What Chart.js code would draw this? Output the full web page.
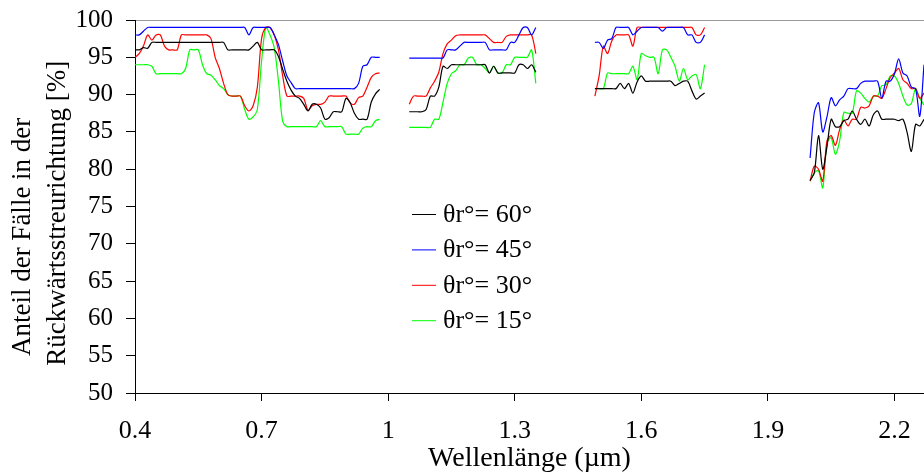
<!DOCTYPE html>
<html>
<head>
<meta charset="utf-8">
<script src="https://cdn.jsdelivr.net/npm/chart.js@4"></script>
<style>
  html, body { margin: 0; padding: 0; background: #fff; overflow: hidden; }
</style>
</head>
<body>
<canvas id="chart" width="924" height="474"></canvas>
<script>
// wavelength grid (µm), one array per measured band
const wlA = [0.40,0.41,0.42,0.43,0.44,0.45,0.46,0.47,0.48,0.49,
             0.50,0.51,0.52,0.53,0.54,0.55,0.56,0.57,0.58,0.59,
             0.60,0.61,0.62,0.63,0.64,0.65,0.66,0.67,0.68,0.69,
             0.70,0.71,0.72,0.73,0.74,0.75,0.76,0.77,0.78,0.79,
             0.80,0.81,0.82,0.83,0.84,0.85,0.86,0.87,0.88,0.89,
             0.90,0.91,0.92,0.93,0.94,0.95,0.96,0.97,0.98];
const wlB = [1.05,1.06,1.07,1.08,1.09,1.10,1.11,1.12,1.13,1.14,
             1.15,1.16,1.17,1.18,1.19,1.20,1.21,1.22,1.23,1.24,
             1.25,1.26,1.27,1.28,1.29,1.30,1.31,1.32,1.33,1.34,
             1.35];
const wlC = [1.49,
             1.50,1.51,1.52,1.53,1.54,1.55,1.56,1.57,1.58,1.59,
             1.60,1.61,1.62,1.63,1.64,1.65,1.66,1.67,1.68,1.69,
             1.70,1.71,1.72,1.73,1.74,1.75];
const wlD = [2.00,2.01,2.02,2.03,2.04,2.05,2.06,2.07,2.08,2.09,
             2.10,2.11,2.12,2.13,2.14,2.15,2.16,2.17,2.18,2.19,
             2.20,2.21,2.22,2.23,2.24,2.25,2.26,2.27];

// share of backscatter cases [%], per band
const theta60 = [
  [96,96,96.3,96.2,97,97,97,97,97,97,
   97,97,97,97,97,97,97,97,97,97,
   97,97,96,96,96,96,96,96,96.5,97,
   96,96,96,96,95.1,93.4,91.8,90.6,89.8,89.5,
   88.7,87.8,88.7,88.7,88.2,86.7,86.9,87.7,87.7,87.7,
   89.5,88.9,87.5,86.7,86.7,86.7,89,90.1,90.7],
  [87.7,87.7,87.7,87.7,88,89.8,89.8,91,93.8,93.5,
   94,94,94,94,94,94,94,94,94,92.9,
   93.8,92.9,92.9,92.9,92.9,92.9,94,94,93.5,94,
   93],
  [90.8,
   90.8,90.8,90.8,90.8,90.8,91.5,90.8,91.5,90.2,91.7,
   92.5,91.8,91.8,91.8,91.8,91.8,91.8,91.8,91.2,91.5,
   91.8,91.8,90.5,89.4,89.8,90.2],
  [78.5,79.5,84.5,80,83,86.7,85.7,85.7,86.5,86.7,
   87.8,86.7,86,86.7,85.8,87.3,87.8,86.7,86.7,86.7,
   86.7,86.5,86.7,84.9,82.4,86,85.8,86.7]
];
const theta45 = [
  [98,98,98.5,99,99,99,99,99,99,99,
   99,99,99,99,99,99,99,99,99,99,
   99,99,99,99,99,99,99,98,99,99,
   99,99,99,98,96.7,94.5,92.5,91.6,90.8,90.8,
   90.8,90.8,90.8,90.8,90.8,90.8,90.8,90.8,90.8,90.8,
   90.8,90.8,90.8,91.5,93.8,94,95,95,95],
  [94.9,94.9,94.9,94.9,94.9,94.9,94.9,94.9,94.9,96,
   96,96,96.5,97,97,97,97,97,97,96,
   96,96,96,96,97,97,98,99,99,98,
   99],
  [97,
   97,96.2,97.3,97.5,99,99,99,99,98,98.5,
   99,99,99,99,99,98.5,99,99,99,99,
   99,98,98,97,97,98],
  [81.5,87.6,88.9,85,87,89.6,88.5,89.3,89.8,90.8,
   90.8,90.8,91.5,91.8,91.8,91.8,91.8,89.5,91.8,91.8,
   92.8,94.8,92.9,92.5,91,90.8,87.1,94]
];
const theta30 = [
  [95,95.5,96.5,98,97.3,98,98,96.5,96,96,
   96,98,98,98,98,98,98,98,97.5,95,
   93.5,91.5,90,89.8,89.8,89.8,88.5,87.8,88.5,91,
   97.5,99,99,98,96,92.5,89.8,89.8,89.8,89.8,
   89.5,87.9,88.5,88.7,88.7,89,89.8,89.8,89.8,89.8,
   89.8,88.9,88.7,89.6,89.8,91,92.3,92.8,92.9],
  [88.7,89.8,89.8,89.8,89.8,90.9,91.8,93,95.5,96.8,
   97.3,97.9,98,98,98,98,98,98,98,97.5,
   97,97,97,97.8,98,98,98,98,98,98,
   95.5],
  [89.8,
   92.5,96.5,95.5,97.2,98,98,98,98,96.5,99,
   99,99,99,99,99,99,99,99,99,99,
   99,99,99,98,98,99],
  [78.4,80.4,80,78.4,83.8,84.5,83.2,85.3,86.6,85.8,
   86.7,86.7,88.3,88.2,88.5,89.8,89.8,89.5,90.8,92.3,
   92.9,93.5,92,91.5,90.8,90.8,89.5,90.2]
];
const theta15 = [
  [94,94,94,94,93.8,92.8,92.8,92.8,92.8,92.8,
   92.8,92.8,93.5,96,96,96,94,92.8,92.6,92,
   91.2,90.8,90,89.8,89.8,89.8,88,86.7,87,88,
   94.5,99,98,96.3,91.8,86.4,85.7,85.7,85.7,85.7,
   85.7,85.7,85.7,85.7,86.5,85.7,85.7,85.7,85.7,85.7,
   84.7,84.7,84.7,84.7,85.5,85.7,85.7,86.5,86.7],
  [85.6,85.6,85.6,85.6,85.6,85.6,86.7,86.7,89,91.5,
   92.8,93.2,94,94,94.9,95,94,94,93.5,92.9,
   93.8,92.9,92.9,94,94,95,95,95,95,96,
   91.5],
  [90.8,
   90.8,90.8,92.9,92.8,92.8,92.8,92.8,92.8,93.8,92,
   95.5,95.2,95,95,92.8,96,96,95,93.8,91.8,
   93.5,92,92.5,92.7,90.8,94],
  [78.4,79.5,79.8,77.5,83.5,84.2,82,83.8,87.6,87.5,
   87.5,90.5,90.2,89.5,89,89.8,89.8,91.2,91.3,92.5,
   92.5,91.5,89.8,88.6,88.8,90.8,89.5,88.6]
];

const seriesLabels = ["θr°= 60°", "θr°= 45°", "θr°= 30°", "θr°= 15°"];
const seriesColors = ["#000000", "#0000ff", "#ff0000", "#00ff00"];
const xTicks = [0.4, 0.7, 1, 1.3, 1.6, 1.9, 2.2];

const bands = [wlA, wlB, wlC, wlD];

// join the bands, with a null point between them so the line breaks
function toPoints(series) {
  const pts = [];
  bands.forEach((wl, b) => {
    if (b > 0) pts.push({ x: (bands[b - 1][bands[b - 1].length - 1] + wl[0]) / 2, y: null });
    wl.forEach((x, i) => pts.push({ x: x, y: series[b][i] }));
  });
  return pts;
}

const serif = "'Liberation Serif', 'Times New Roman', serif";

const insideLegend = {
  id: "insideLegend",
  afterDraw(chart) {
    const ctx = chart.ctx;
    const area = chart.chartArea;
    const x0 = area.left + 277;
    let y = area.top + 194;
    ctx.save();
    ctx.font = "26px " + serif;
    ctx.textBaseline = "middle";
    ctx.textAlign = "left";
    chart.data.datasets.forEach(ds => {
      ctx.strokeStyle = ds.borderColor;
      ctx.lineWidth = 1;
      ctx.beginPath();
      ctx.moveTo(x0, y + 0.5);
      ctx.lineTo(x0 + 24, y + 0.5);
      ctx.stroke();
      ctx.fillStyle = "#000";
      ctx.fillText(ds.label, x0 + 31, y + 1);
      y += 35.4;
    });
    ctx.restore();
  }
};

new Chart(document.getElementById("chart"), {
  type: "line",
  data: {
    datasets: [theta60, theta45, theta30, theta15].map((s, i) => ({
      label: seriesLabels[i],
      data: toPoints(s),
      borderColor: seriesColors[i],
      backgroundColor: seriesColors[i],
      borderWidth: 1.2,
      pointRadius: 0,
      tension: 0.3,
      spanGaps: false
    }))
  },
  options: {
    responsive: false,
    animation: false,
    layout: { padding: { top: 20, left: 0, right: 0, bottom: 0 } },
    plugins: { legend: { display: false }, tooltip: { enabled: false } },
    scales: {
      x: {
        type: "linear",
        min: 0.4,
        max: 2.27,
        afterBuildTicks: scale => { scale.ticks = xTicks.map(v => ({ value: v })); },
        afterFit: scale => { scale.height = 81; scale.paddingLeft = 0; scale.paddingRight = 0; },
        ticks: {
          color: "#000",
          font: { family: serif, size: 26 },
          padding: 15,
          maxRotation: 0,
          callback: v => String(v)
        },
        grid: { color: "transparent", tickColor: "#000", tickLength: 8, drawOnChartArea: false },
        border: { color: "#000", width: 1 },
        title: {
          display: true,
          text: "Wellenlänge (µm)",
          color: "#000",
          font: { family: serif, size: 28, lineHeight: 1.1 },
          padding: { top: 0, bottom: 0 }
        }
      },
      y: {
        min: 50,
        max: 100,
        afterFit: scale => { scale.width = 135; scale.paddingTop = 0; scale.paddingBottom = 0; },
        ticks: {
          stepSize: 5,
          color: "#000",
          font: { family: serif, size: 25 },
          padding: 13
        },
        grid: {
          color: c => (c.tick && c.tick.value === 100 ? "#999" : "transparent"),
          tickColor: "#000",
          tickLength: 9
        },
        border: { color: "#000", width: 1 },
        // trailing spaces push each centred line down like in the original
        title: {
          display: true,
          text: ["Anteil der Fälle in der         ", "Rückwärtsstreurichtung [%]  "],
          color: "#000",
          font: { family: serif, size: 27, lineHeight: 1.28 },
          padding: { top: 6, bottom: 0 }
        }
      }
    }
  },
  plugins: [insideLegend]
});
</script>
</body>
</html>
